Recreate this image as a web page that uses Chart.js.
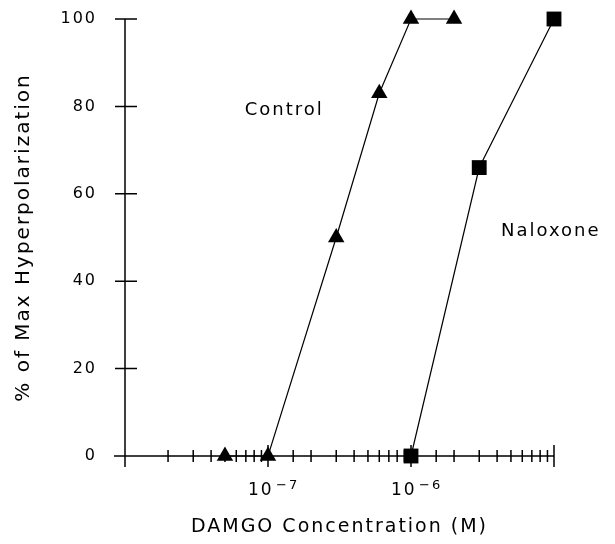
<!DOCTYPE html>
<html>
<head>
<meta charset="utf-8">
<script src="https://cdn.jsdelivr.net/npm/chart.js@4"></script>
<style>
  body { margin:0; background:#fff; }
  canvas { display:block; }
</style>
</head>
<body>
<canvas id="chart" width="615" height="544"></canvas>
<script>
// DAMGO dose-response, control vs naloxone
const controlConc = [5e-8, 1e-7, 3e-7, 6e-7, 1e-6, 2e-6];
const controlPct  = [0, 0, 50, 83, 100, 100];
const naloxoneConc = [1e-6, 3e-6, 1e-5];
const naloxonePct  = [0, 66, 100];

// decades that get a "10^n" label
const labelledExps = [-7, -6];
const notes = [
  { text: 'Control',  x: 1.3e-7, y: 79 },
  { text: 'Naloxone', x: 9.5e-6, y: 51.5 }
];

const FONT = 'DejaVu Sans';
const pts = (xs, ys) => xs.map((x, i) => ({ x, y: ys[i] }));
const isDecade = v => Math.abs(Math.log10(v) - Math.round(Math.log10(v))) < 1e-6;
const noPad = s => { s.paddingTop = 0; s.paddingBottom = 0; s.paddingLeft = 0; s.paddingRight = 0; };

// letter spacing for the wide plotter font look
const spacing = {
  id: 'spacing',
  beforeDraw(chart) { chart.ctx.letterSpacing = '2px'; }
};

// axes cross at the origin, ticks go both ways
const axes = {
  id: 'axes',
  beforeDatasetsDraw(chart) {
    const { ctx, chartArea: a, scales: { x, y } } = chart;
    const y0 = y.getPixelForValue(0), x0 = x.getPixelForValue(1e-8);
    ctx.save();
    ctx.strokeStyle = '#000';
    ctx.lineWidth = 1.5;
    ctx.beginPath();
    ctx.moveTo(x0 - 11, y0); ctx.lineTo(a.right, y0);
    ctx.moveTo(x0, a.top); ctx.lineTo(x0, y0 + 11);
    for (const t of y.ticks) {
      const py = y.getPixelForValue(t.value);
      ctx.moveTo(x0 - 10, py); ctx.lineTo(x0 + 12, py);
    }
    for (const t of x.ticks) {
      const px = x.getPixelForValue(t.value);
      const len = isDecade(t.value) ? 11 : 6;
      ctx.moveTo(px, y0 - len); ctx.lineTo(px, y0 + len);
    }
    ctx.stroke();
    ctx.restore();
  },
  afterDraw(chart) {
    const { ctx, scales: { x, y } } = chart;
    ctx.save();
    ctx.fillStyle = '#000';
    ctx.letterSpacing = '2px';
    ctx.textBaseline = 'middle';
    // 10^n labels with a raised exponent
    const y0 = y.getPixelForValue(0);
    for (const e of labelledExps) {
      const px = x.getPixelForValue(Math.pow(10, e));
      ctx.textAlign = 'left';
      ctx.font = '17px "' + FONT + '"';
      ctx.fillText('10', px - 20, y0 + 35);
      ctx.font = '13px "' + FONT + '"';
      ctx.fillText('\u2212' + (-e), px + 8, y0 + 30);
    }
    ctx.font = '18px "' + FONT + '"';
    ctx.textAlign = 'center';
    for (const n of notes) ctx.fillText(n.text, x.getPixelForValue(n.x), y.getPixelForValue(n.y));
    ctx.restore();
  }
};

new Chart(document.getElementById('chart'), {
  type: 'scatter',
  data: {
    datasets: [
      {
        label: 'Control',
        data: pts(controlConc, controlPct),
        showLine: true,
        borderColor: '#000',
        borderWidth: 1.2,
        pointStyle: 'triangle',
        pointRadius: 9.5,
        pointBackgroundColor: '#000',
        pointBorderColor: '#000',
        pointBorderWidth: 0,
        clip: false
      },
      {
        label: 'Naloxone',
        data: pts(naloxoneConc, naloxonePct),
        showLine: true,
        borderColor: '#000',
        borderWidth: 1.2,
        pointStyle: 'rect',
        pointRadius: 10.5,
        pointBackgroundColor: '#000',
        pointBorderColor: '#000',
        pointBorderWidth: 0,
        clip: false
      }
    ]
  },
  options: {
    responsive: false,
    animation: false,
    devicePixelRatio: 1,
    layout: { padding: { left: 0, right: 61, top: 19, bottom: 0 } },
    plugins: { legend: { display: false }, tooltip: { enabled: false } },
    scales: {
      x: {
        type: 'logarithmic',
        min: 1e-8,
        max: 1e-5,
        grid: { display: false, drawTicks: false },
        border: { display: false },
        afterFit(s) { s.height = 88; noPad(s); },
        ticks: { display: false, autoSkip: false },
        title: {
          display: true,
          text: 'DAMGO Concentration (M)',
          color: '#000',
          font: { family: FONT, size: 19 },
          padding: { top: 0, bottom: 6 }
        }
      },
      y: {
        min: 0,
        max: 100,
        grid: { display: false, drawTicks: false },
        border: { display: false },
        afterFit(s) { s.width = 125; noPad(s); },
        ticks: {
          stepSize: 20,
          padding: 28,
          color: '#000',
          font: { family: FONT, size: 16 }
        },
        title: {
          display: true,
          text: '% of Max Hyperpolarization',
          color: '#000',
          font: { family: FONT, size: 20 },
          padding: { top: 12, bottom: 0 }
        }
      }
    }
  },
  plugins: [spacing, axes]
});
</script>
</body>
</html>
